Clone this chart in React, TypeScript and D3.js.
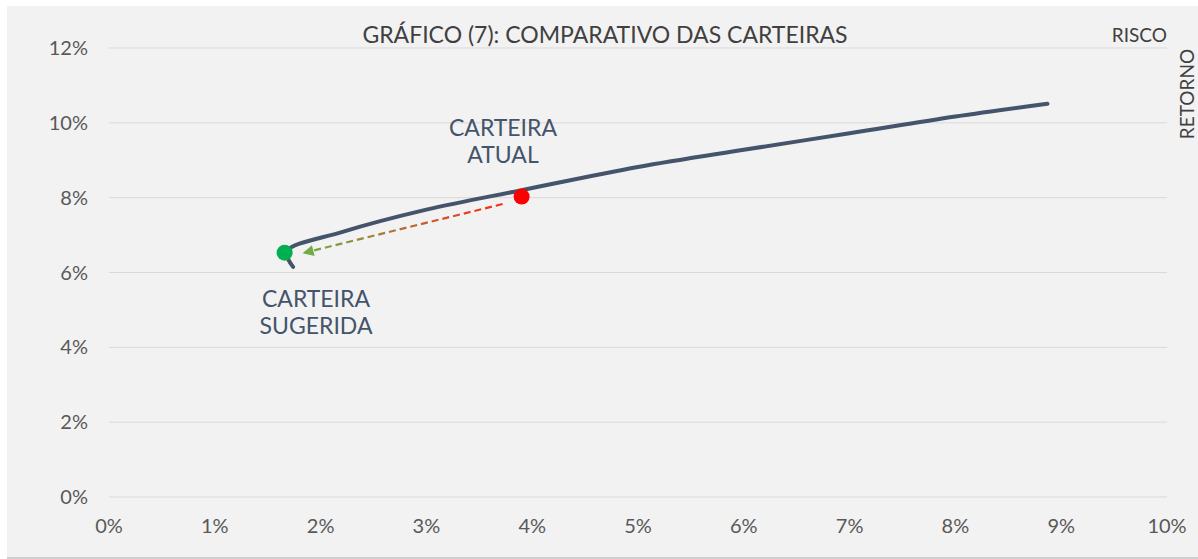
import React from "react";
import * as d3 from "d3";

// fronteira eficiente (risco %, retorno %)
const frontier: [number, number][] = [
  [1.74, 6.15],
  [1.68, 6.56],
  [2.2, 7.08],
  [3.0, 7.68],
  [3.9, 8.2],
  [5.0, 8.82],
  [6.0, 9.28],
  [7.0, 9.72],
  [8.0, 10.17],
  [8.87, 10.51],
];

const atual: [number, number] = [3.9, 8.03];
const sugerida: [number, number] = [1.66, 6.53];
const arrowFrom: [number, number] = [3.72, 7.83];
const arrowTo: [number, number] = [1.85, 6.53];

const xTicks = [0, 1, 2, 3, 4, 5, 6, 7, 8, 9, 10];
const yTicks = [0, 2, 4, 6, 8, 10, 12];

const title = "GRÁFICO (7): COMPARATIVO DAS CARTEIRAS";

const W = 1198;
const H = 559;
const margin = { top: 48, right: 31, bottom: 62, left: 109 };

export default function App() {
  const x = d3.scaleLinear().domain([0, 10]).range([margin.left, W - margin.right]);
  const y = d3.scaleLinear().domain([0, 12]).range([H - margin.bottom, margin.top]);

  const line = d3
    .line<[number, number]>()
    .x((d) => x(d[0]))
    .y((d) => y(d[1]))
    .curve(d3.curveCatmullRom.alpha(0.5));

  const font = "Lato, 'Open Sans', sans-serif";
  const labelColor = "#44546a";

  return (
    <svg
      width={W}
      height={H}
      style={{ position: "absolute", left: 0, top: 0, fontFamily: font }}
    >
      <defs>
        <linearGradient
          id="arrowGrad"
          gradientUnits="userSpaceOnUse"
          x1={x(arrowFrom[0])}
          y1={y(arrowFrom[1])}
          x2={x(arrowTo[0])}
          y2={y(arrowTo[1])}
        >
          <stop offset="0%" stopColor="#ff2a1a" />
          <stop offset="100%" stopColor="#70ad47" />
        </linearGradient>
        <marker
          id="head"
          viewBox="0 0 10 10"
          refX="8"
          refY="5"
          markerWidth="7"
          markerHeight="5"
          markerUnits="strokeWidth"
          orient="auto"
        >
          <path d="M0,0 L10,5 L0,10 z" fill="#70ad47" />
        </marker>
      </defs>

      <rect x={7} y={6} width={W - 7} height={552} fill="#f2f2f2" />
      <line x1={7} x2={W} y1={558} y2={558} stroke="#a6a6a6" strokeWidth={1} />

      {/* grade */}
      {yTicks.map((t) => (
        <g key={t}>
          <line
            x1={x(0)}
            x2={x(10)}
            y1={y(t)}
            y2={y(t)}
            stroke="#d9d9d9"
            strokeWidth={1}
          />
          <text
            x={88}
            y={y(t)}
            dy="0.35em"
            textAnchor="end"
            fontSize={20}
            fill="#595959"
          >
            {t}%
          </text>
        </g>
      ))}

      {xTicks.map((t) => (
        <text
          key={t}
          x={x(t)}
          y={526}
          dy="0.35em"
          textAnchor="middle"
          fontSize={20}
          fill="#595959"
        >
          {t}%
        </text>
      ))}

      <text x={605} y={43} textAnchor="middle" fontSize={23} fill="#404040">
        {title}
      </text>
      <text x={1167} y={42} textAnchor="end" fontSize={19} fill="#404040">
        RISCO
      </text>
      <text
        transform={`translate(1194,94) rotate(-90)`}
        textAnchor="middle"
        fontSize={19}
        fill="#404040"
      >
        RETORNO
      </text>

      <path
        d={line(frontier) ?? ""}
        fill="none"
        stroke="#44546a"
        strokeWidth={4}
        strokeLinecap="round"
      />

      <line
        x1={x(arrowFrom[0])}
        y1={y(arrowFrom[1])}
        x2={x(arrowTo[0])}
        y2={y(arrowTo[1])}
        stroke="url(#arrowGrad)"
        strokeWidth={2.2}
        strokeDasharray="7 4"
        markerEnd="url(#head)"
      />

      <circle cx={x(atual[0])} cy={y(atual[1])} r={8} fill="#ff0000" />
      <circle cx={x(sugerida[0])} cy={y(sugerida[1])} r={8} fill="#00b050" />

      <text textAnchor="middle" fontSize={23} fill={labelColor}>
        <tspan x={503} y={136}>CARTEIRA</tspan>
        <tspan x={503} y={163}>ATUAL</tspan>
      </text>
      <text textAnchor="middle" fontSize={23} fill={labelColor}>
        <tspan x={316} y={307}>CARTEIRA</tspan>
        <tspan x={316} y={334}>SUGERIDA</tspan>
      </text>
    </svg>
  );
}
